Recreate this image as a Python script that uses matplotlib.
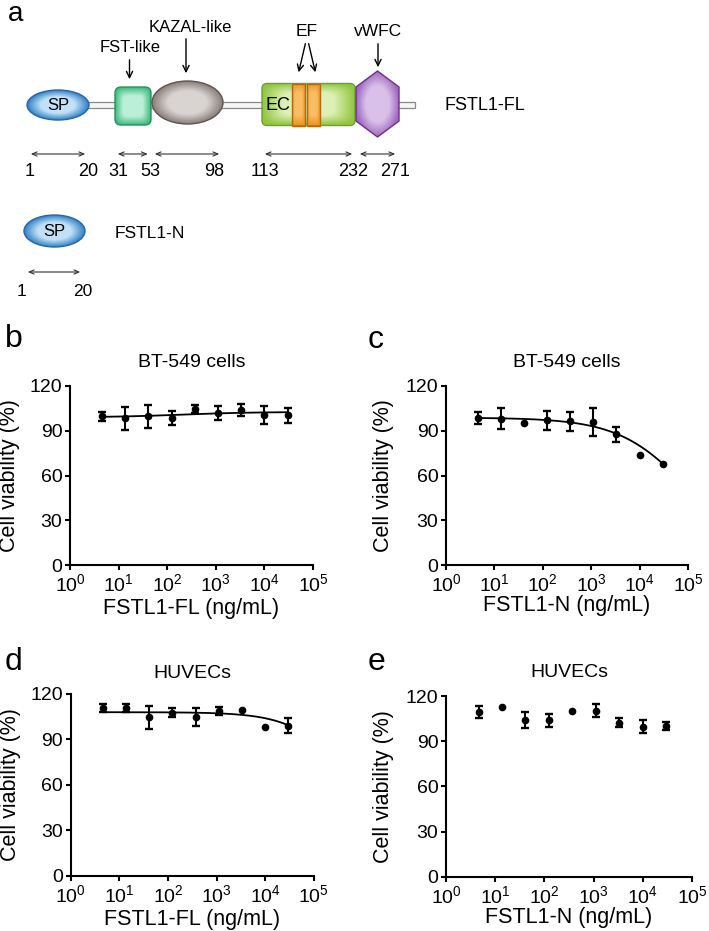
import numpy as np
import matplotlib
matplotlib.use('Agg')
import matplotlib.pyplot as plt
from matplotlib.patches import Ellipse, FancyBboxPatch, Polygon, Rectangle
from matplotlib.colors import LinearSegmentedColormap
from matplotlib.ticker import FixedLocator, NullLocator

plt.rcParams['font.family'] = ['Liberation Sans', 'DejaVu Sans']
plt.rcParams['mathtext.fontset'] = 'custom'
plt.rcParams['mathtext.rm'] = 'Liberation Sans'

# ---------------- data ----------------
# 3-fold dilution series (ng/mL)
conc = [4.6, 13.7, 41.2, 123, 370, 1111, 3333, 10000, 30000]

bt_fl_mean = [99.7, 98.4, 99.6, 98.5, 104.6, 101.7, 103.9, 100.6, 100.4]
bt_fl_sd = [3.0, 7.6, 7.5, 4.8, 2.6, 4.7, 3.9, 5.8, 5.1]
bt_n_mean = [98.5, 98.2, 95.5, 96.9, 96.3, 95.9, 87.5, 73.6, 68.0]
bt_n_sd = [4.1, 7.1, 0, 6.1, 6.4, 9.5, 5.2, 0, 0]
hu_fl_mean = [110.9, 110.9, 104.6, 107.6, 104.7, 108.7, 109.4, 98.0, 99.2]
hu_fl_sd = [2.5, 2.5, 7.7, 3.0, 5.8, 2.5, 0, 0, 4.7]
hu_n_mean = [109.4, 112.9, 104.1, 103.8, 110.2, 110.2, 102.4, 99.6, 100.2]
hu_n_sd = [4.2, 0, 5.5, 4.6, 0, 4.4, 2.8, 4.4, 2.8]

# four-parameter logistic fits: top, bottom, EC50, hill
bt_fl_fit = [99.0, 102.6, 200, 0.6]
bt_n_fit = [98.8, 0.0, 113700, 0.594]
hu_fl_fit = [108.0, 0.0, 771000, 0.75]
hu_n_fit = None

x_exponents = [0, 1, 2, 3, 4, 5]
y_ticks = [0, 30, 60, 90, 120]

# domain map of FSTL1
domain_labels = ['FST-like', 'KAZAL-like', 'EF', 'vWFC']
residues_fl = [1, 20, 31, 53, 98, 113, 232, 271]
residues_n = [1, 20]

# ---------------- figure ----------------
fig = plt.figure(figsize=(7.09, 9.31), dpi=100)

# panel a: drawn in pixel coordinates on a full-figure overlay
ov = fig.add_axes([0, 0, 1, 1])
ov.axis('off')


def shaded(patch, bounds, inner, outer, edge, z, boxy=False):
    # fill a patch with a light centre fading to a darker rim
    x0, x1, y0, y1 = bounds
    patch.set_facecolor('none')
    patch.set_edgecolor(edge)
    patch.set_linewidth(1.0)
    patch.set_zorder(z + 0.5)
    ov.add_patch(patch)
    gx, gy = np.meshgrid(np.linspace(-1, 1, 100), np.linspace(-1, 1, 100))
    if boxy:
        r = (np.abs(gx) ** 5 + np.abs(gy) ** 5) ** 0.2
    else:
        r = np.hypot(gx, gy)
    cmap = LinearSegmentedColormap.from_list('g', [(0, inner), (0.55, inner), (1, outer)])
    im = ov.imshow(r, cmap=cmap, vmin=0, vmax=1.0, extent=(x0, x1, y1, y0),
                   aspect='auto', interpolation='bilinear', zorder=z)
    im.set_clip_path(patch)


# backbone
ov.add_patch(Rectangle((80, 102), 335, 6, facecolor='#f5f5f5', edgecolor='#8a8a8a',
                       lw=0.9, zorder=1))
# SP
shaded(Ellipse((58, 105), 62, 30), (27, 89, 90, 120), '#c2e1f7', '#3282c6', '#2a66a4', 2)
# FST-like
shaded(FancyBboxPatch((115, 87), 36, 38, boxstyle='round,pad=0,rounding_size=6'),
       (115, 151, 87, 125), '#bcefd7', '#3fbb7f', '#2a8f5c', 2, boxy=True)
# KAZAL-like
shaded(Ellipse((187.5, 102.5), 71, 43), (152, 223, 81, 124), '#d9d4d1', '#8a7f7a', '#5f5652', 2)
# EC domain with the two EF hands
shaded(FancyBboxPatch((262, 83.5), 93, 42, boxstyle='round,pad=0,rounding_size=5'),
       (262, 355, 83.5, 125.5), '#ddf0b6', '#92c640', '#6f9e30', 2, boxy=True)
for bx in [292, 307]:
    shaded(Rectangle((bx, 83.5), 13, 42), (bx, bx + 13, 83.5, 125.5),
           '#f9bd62', '#ef9526', '#b06a12', 4, boxy=True)
# vWFC hexagon
hex_pts = [(377.5, 71), (399, 87), (399, 121), (377.5, 137), (356, 121), (356, 87)]
shaded(Polygon(hex_pts, closed=True), (356, 399, 71, 137), '#d9c0ea', '#a06cbf', '#6f2f8f', 2)

ov.text(58, 105, 'SP', ha='center', va='center', fontsize=12, zorder=6)
ov.text(278, 105, 'EC', ha='center', va='center', fontsize=13, zorder=6)

arrow_kw = dict(arrowstyle='->,head_length=0.45,head_width=0.22', color='k', lw=1.0)
label_xy = [(130, 47), (190, 27), (307, 32), (378, 32)]
label_fs = [12, 12, 12.5, 12.5]
for txt, (tx, ty), fs in zip(domain_labels, label_xy, label_fs):
    ov.text(tx, ty, txt, ha='center', va='center', fontsize=fs)
ov.annotate('', xy=(129.5, 82), xytext=(129.5, 57), arrowprops=arrow_kw)
ov.annotate('', xy=(186, 76), xytext=(186, 36), arrowprops=arrow_kw)
ov.annotate('', xy=(298, 75), xytext=(306, 41), arrowprops=arrow_kw)
ov.annotate('', xy=(316, 75), xytext=(308, 41), arrowprops=arrow_kw)
ov.annotate('', xy=(378, 70), xytext=(378, 41), arrowprops=arrow_kw)

ov.text(445, 105, 'FSTL1-FL', ha='left', va='center', fontsize=13)

span_kw = dict(arrowstyle='<->,head_length=0.35,head_width=0.15', color='#333333', lw=0.8)
spans_fl_px = [(28, 88), (115, 150.5), (152, 222), (262, 355), (357, 398)]
for x0, x1 in spans_fl_px:
    ov.annotate('', xy=(x1, 154), xytext=(x0, 154), arrowprops=span_kw)
num_fl_px = [30, 88, 118, 150, 214, 265, 353, 395]
for r, px in zip(residues_fl, num_fl_px):
    ov.text(px, 171, str(r), ha='center', va='center', fontsize=13)

# FSTL1-N
shaded(Ellipse((54.5, 231), 61, 32), (24, 85, 215, 247), '#c2e1f7', '#3282c6', '#2a66a4', 2)
ov.text(54.5, 231, 'SP', ha='center', va='center', fontsize=12, zorder=6)
ov.text(115, 233, 'FSTL1-N', ha='left', va='center', fontsize=12.5)
ov.annotate('', xy=(83, 272), xytext=(25, 272), arrowprops=span_kw)
for r, px in zip(residues_n, [22, 83]):
    ov.text(px, 292, str(r), ha='center', va='center', fontsize=12.5)

ov.set_xlim(0, 709)
ov.set_ylim(931, 0)

fig.text(8 / 709, 1 - 21 / 931, 'a', fontsize=20, va='baseline')

# ---------------- viability panels ----------------
panels = [
    ('b', 'BT-549 cells', 'FSTL1-FL (ng/mL)', bt_fl_mean, bt_fl_sd, bt_fl_fit),
    ('c', 'BT-549 cells', 'FSTL1-N (ng/mL)', bt_n_mean, bt_n_sd, bt_n_fit),
    ('d', 'HUVECs', 'FSTL1-FL (ng/mL)', hu_fl_mean, hu_fl_sd, hu_fl_fit),
    ('e', 'HUVECs', 'FSTL1-N (ng/mL)', hu_n_mean, hu_n_sd, hu_n_fit),
]
# axes rect, letter position (px), ylabel x, xlabel y, title pad
layout = [
    ([0.0987, 0.3931, 0.3428, 0.1923], (5, 347), -0.205, -0.185, 13.5),
    ([0.6290, 0.3931, 0.3413, 0.1923], (368, 348), -0.215, -0.17, 13.5),
    ([0.0997, 0.0591, 0.3430, 0.1955], (5, 670), -0.205, -0.18, 11.5),
    ([0.6290, 0.0583, 0.3470, 0.1940], (368, 670), -0.212, -0.17, 13.5),
]

x = np.array(conc)
for (letter, title, xlabel, mean, sd, fit), (rect, (lx, ly), ylx, xly, tpad) in zip(panels, layout):
    ax = fig.add_axes(rect)
    mean = np.array(mean)
    sd = np.array(sd)
    has = sd > 0
    ax.errorbar(x[has], mean[has], yerr=sd[has], fmt='none', ecolor='k',
                elinewidth=1.5, capsize=3.2, capthick=1.7, zorder=3)
    ax.plot(x, mean, 'o', color='k', ms=4.5, zorder=4)
    if fit is not None:
        top, bottom, ec50, hill = fit
        xs = np.logspace(np.log10(conc[0]), np.log10(conc[-1]), 200)
        ax.plot(xs, bottom + (top - bottom) / (1 + (xs / ec50) ** hill), color='k', lw=1.3, zorder=2)

    ax.set_xscale('log')
    ax.set_xlim(1, 1e5)
    ax.set_ylim(0, 120)
    ax.xaxis.set_major_locator(FixedLocator([10.0 ** e for e in x_exponents]))
    ax.xaxis.set_minor_locator(NullLocator())
    ax.set_xticklabels(['$\\mathdefault{10^{%d}}$' % e for e in x_exponents])
    ax.set_yticks(y_ticks)
    for s in ['top', 'right']:
        ax.spines[s].set_visible(False)
    for s in ['left', 'bottom']:
        ax.spines[s].set_linewidth(1.5)
    ax.tick_params(direction='out', length=3.5, width=1.5, labelsize=14)
    ax.tick_params(axis='x', pad=2.5)
    ax.tick_params(axis='y', pad=2)
    ax.set_title(title, fontsize=14, pad=tpad)
    ax.set_xlabel(xlabel, fontsize=15.5)
    ax.set_ylabel('Cell viability (%)', fontsize=15.5)
    ax.yaxis.set_label_coords(ylx, 0.5)
    ax.xaxis.set_label_coords(0.5, xly)
    fig.text(lx / 709, 1 - ly / 931, letter, fontsize=23, va='baseline')

fig.savefig('out.png', dpi=100)
